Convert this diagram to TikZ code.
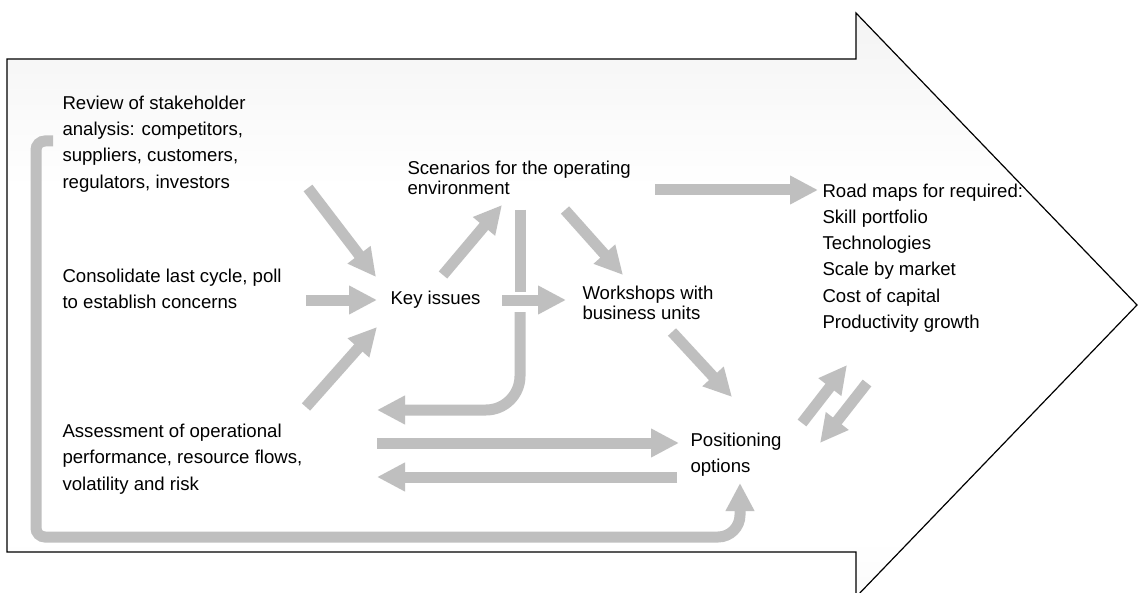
\documentclass[tikz,border=0pt]{standalone}
\usepackage{fontspec}
\setmainfont{Liberation Sans}
\usetikzlibrary{arrows.meta}
\definecolor{flowgray}{RGB}{191,191,191}
\pgfdeclareverticalshading{bodyshade}{100bp}{color(0bp)=(black!9); color(30bp)=(white); color(60bp)=(white); color(100bp)=(black!12)}

\begin{document}
\begin{tikzpicture}[x=1pt, y=-1pt, line width=1pt,
    txt/.style={inner sep=0pt, anchor=west, align=left, font=\fontsize{18.6}{26.3}\selectfont},
    tighttxt/.style={txt, font=\fontsize{18.6}{20.5}\selectfont},
    flow/.style={draw=flowgray, line width=11pt, -{Triangle[width=27pt,length=28pt]}},
    flowbar/.style={draw=flowgray, line width=11pt}]
    \useasboundingbox (0,0) rectangle (1139,593);

    % draw shaded big arrow
    \shade[shading=bodyshade]
        (7,59) -- (856,59) -- (856,13) -- (1137,305) -- (856,597) -- (856,552) -- (7,552) -- cycle;
    \draw[line width=1.2pt]
        (7,59) -- (856,59) -- (856,13) -- (1137,305) -- (856,597) -- (856,552) -- (7,552) -- cycle;

    % draw text blocks
    \node[txt] (rev) at (62,144) {Review of stakeholder\\analysis: competitors,\\suppliers, customers,\\regulators, investors};
    \node[txt] (cons) at (62,289) {Consolidate last cycle, poll\\to establish concerns};
    \node[txt] (ass) at (62,459) {Assessment of operational\\performance, resource flows,\\volatility and risk};
    \node[txt] (key) at (390,300) {Key issues};
    \node[tighttxt] (scen) at (407,178) {Scenarios for the operating\\environment};
    \node[tighttxt] (work) at (582,303) {Workshops with\\business units};
    \node[txt] (pos) at (690,455) {Positioning\\options};
    \node[txt] (road) at (822,258) {Road maps for required:\\Skill portfolio\\Technologies\\Scale by market\\Cost of capital\\Productivity growth};

    % draw gray flow arrows
    \draw[flow] ([shift={(246,44)}]rev.west) -- ([shift={(-14,-23)}]key.west);
    \draw[flow] ([shift={(244,11)}]cons.west) -- ([shift={(-13,0)}]key.west);
    \draw[flow] ([shift={(244,-52)}]ass.west) -- ([shift={(-13,27)}]key.west);
    \draw[flow] ([shift={(53,-25)}]key.west) -- ([shift={(95,27)}]scen.west);
    \draw[flow] ([shift={(158,32)}]scen.west) -- ([shift={(41,-28)}]work.west);
    \draw[flowbar] ([shift={(113,32)}]scen.west) -- ([shift={(113,114)}]scen.west);
    \draw[flow] ([shift={(112,0)}]key.west) -- ([shift={(-16,-3)}]work.west);
    \draw[flow, rounded corners=34] ([shift={(113,134)}]scen.west) |- ([shift={(315,-49)}]ass.west);
    \draw[flow] ([shift={(248,12)}]scen.west) -- ([shift={(-4,-68)}]road.west);
    \draw[flow] ([shift={(90,29)}]work.west) -- ([shift={(42,-58)}]pos.west);
    \draw[flow] ([shift={(315,-16)}]ass.west) -- ([shift={(-11,-12)}]pos.west);
    \draw[flow] ([shift={(-13,22)}]pos.west) -- ([shift={(315,18)}]ass.west);
    \draw[flow] ([shift={(112,-32)}]pos.west) -- ([shift={(25,107)}]road.west);
    \draw[flow] ([shift={(45,125)}]road.west) -- ([shift={(130,-12)}]pos.west);

    % draw outer feedback loop
    \draw[flow] ([shift={(-9,-3)}]rev.west) [rounded corners=9] -| ([shift={(-26,78)}]ass.west)
        [rounded corners=22] -| ([shift={(50,28)}]pos.west);
\end{tikzpicture}
\end{document}
